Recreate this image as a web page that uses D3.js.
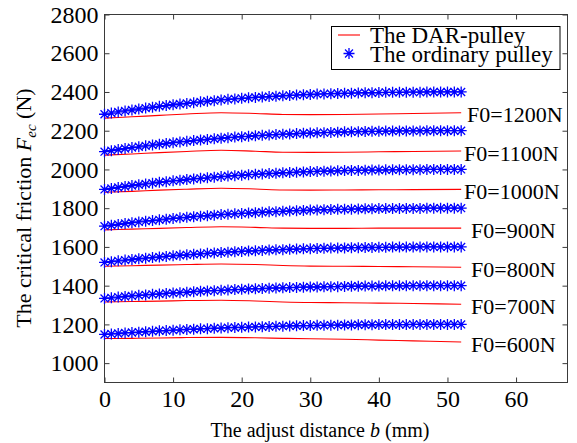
<!DOCTYPE html>
<html>
<head>
<meta charset="utf-8">
<script src="https://cdn.jsdelivr.net/npm/d3@7"></script>
<style>
  body { margin: 0; background: #fff; }
  svg { display: block; font-family: "Liberation Serif", "Times New Roman", serif; }
</style>
</head>
<body>
<div id="chart"></div>
<script>
// adjust distance b (mm) of the ordinary pulley points
var bOrd = [0,1,2,3,4,5,6,7,8,9,10,11,12,13,14,15,16,17,18,19,20,21,22,23,24,25,26,
            27,28,29,30,31,32,33,34,35,36,37,38,39,40,41,42,43,44,45,46,47,48,49,50,51,52];
// adjust distance b (mm) of the DAR-pulley curve points
var bDar = [0,4,8,12,17,22,26,30,35,40,45,52];

var f0Labels = ["F0=600N","F0=700N","F0=800N","F0=900N","F0=1000N","F0=1100N","F0=1200N"];

// the ordinary pulley, critical friction (N)
var ord600  = [1148,1151,1153,1156,1158,1160,1162,1164,1167,1168,1170,1172,1174,1175,1177,1178,1180,1181,1183,1184,1185,1186,1187,1188,1189,1190,1191,1192,1193,1194,1194,1195,1195,1196,1196,1197,1197,1198,1198,1198,1199,1199,1199,1199,1199,1200,1200,1200,1200,1200,1200,1200,1200];
var ord700  = [1334,1337,1341,1344,1347,1350,1352,1355,1357,1360,1362,1364,1366,1369,1371,1373,1374,1376,1378,1380,1381,1383,1384,1385,1387,1388,1389,1390,1391,1392,1393,1393,1394,1395,1395,1396,1397,1397,1398,1398,1398,1399,1399,1399,1399,1400,1400,1400,1400,1400,1400,1400,1400];
var ord800  = [1520,1524,1528,1532,1535,1539,1542,1545,1548,1551,1554,1557,1559,1562,1564,1567,1569,1571,1573,1575,1577,1579,1580,1582,1584,1585,1586,1588,1589,1590,1591,1592,1593,1594,1594,1595,1596,1596,1597,1597,1598,1598,1599,1599,1599,1599,1600,1600,1600,1600,1600,1600,1600];
var ord900  = [1707,1712,1716,1721,1725,1729,1733,1736,1740,1743,1747,1750,1753,1756,1759,1761,1764,1767,1769,1771,1773,1775,1777,1779,1781,1782,1784,1786,1787,1788,1790,1791,1792,1793,1794,1794,1795,1796,1797,1797,1798,1798,1798,1799,1799,1799,1799,1800,1800,1800,1800,1800,1800];
var ord1000 = [1897,1902,1907,1912,1917,1921,1925,1929,1934,1937,1941,1944,1948,1951,1954,1957,1960,1963,1966,1968,1970,1973,1975,1977,1979,1980,1983,1984,1986,1987,1989,1990,1991,1992,1993,1994,1995,1995,1996,1997,1997,1998,1998,1999,1999,1999,1999,2000,2000,2000,2000,2000,2000];
var ord1100 = [2092,2097,2103,2108,2113,2117,2122,2126,2130,2134,2138,2142,2145,2149,2152,2155,2158,2161,2164,2167,2169,2171,2174,2176,2178,2180,2182,2183,2185,2187,2188,2189,2190,2191,2192,2194,2194,2195,2196,2197,2197,2198,2198,2199,2199,2199,2199,2200,2200,2200,2200,2200,2200];
var ord1200 = [2285,2291,2297,2302,2307,2312,2317,2321,2326,2330,2334,2338,2341,2345,2349,2352,2355,2359,2362,2364,2367,2370,2372,2374,2376,2378,2380,2382,2384,2386,2387,2389,2390,2391,2392,2393,2394,2395,2396,2396,2397,2398,2398,2398,2399,2399,2399,2400,2400,2400,2400,2400,2400];

// the DAR-pulley, critical friction (N)
var dar600  = [1127,1128,1130,1132,1133,1131,1128,1126,1123,1119,1115,1109];
var dar700  = [1316,1318,1320,1323,1325,1321,1316,1313,1312,1310,1308,1304];
var dar800  = [1500,1503,1506,1509,1512,1509,1504,1501,1500,1499,1498,1495];
var dar900  = [1688,1692,1696,1700,1704,1701,1697,1696,1696,1697,1697,1697];
var dar1000 = [1882,1887,1893,1898,1903,1899,1894,1893,1894,1895,1896,1897];
var dar1100 = [2074,2080,2087,2093,2099,2094,2089,2088,2089,2091,2093,2095];
var dar1200 = [2265,2272,2279,2286,2293,2289,2284,2283,2284,2286,2289,2293];

var xTicks = [0,10,20,30,40,50,60];
var yTicks = [1000,1200,1400,1600,1800,2000,2200,2400,2600,2800];

var ordSeries = [ord600, ord700, ord800, ord900, ord1000, ord1100, ord1200];
var darSeries = [dar600, dar700, dar800, dar900, dar1000, dar1100, dar1200];

// horizontal start of each F0 label (px)
var labelX = [471, 471, 471, 471, 464, 464, 467];

var W = 577, H = 443;
var plot = { left: 104.5, right: 567.5, top: 14.5, bottom: 382.5 };

var x = d3.scaleLinear().domain([0, 67.5]).range([plot.left, plot.right]);
var y = d3.scaleLinear().domain([900, 2800]).range([plot.bottom, plot.top]);

var svg = d3.select("#chart").append("svg")
    .attr("width", W)
    .attr("height", H);

svg.append("rect").attr("width", W).attr("height", H).attr("fill", "#fff");

var tickFont = "24px";
var labelFont = "22px";

// axes, ticks point inward on all four sides
var gx = svg.append("g")
    .attr("transform", "translate(0," + plot.bottom + ")")
    .call(d3.axisBottom(x).tickValues(xTicks).tickSizeInner(-5).tickSizeOuter(0).tickPadding(7));
var gxTop = svg.append("g")
    .attr("transform", "translate(0," + plot.top + ")")
    .call(d3.axisTop(x).tickValues(xTicks).tickSizeInner(-5).tickSizeOuter(0).tickFormat(""));
var gy = svg.append("g")
    .attr("transform", "translate(" + plot.left + ",0)")
    .call(d3.axisLeft(y).tickValues(yTicks).tickSizeInner(-5).tickSizeOuter(0).tickPadding(6).tickFormat(d3.format("d")));
var gyRight = svg.append("g")
    .attr("transform", "translate(" + plot.right + ",0)")
    .call(d3.axisRight(y).tickValues(yTicks).tickSizeInner(-5).tickSizeOuter(0).tickFormat(""));

[gx, gxTop, gy, gyRight].forEach(function(g) {
    g.select(".domain").remove();
    g.selectAll(".tick line").attr("stroke", "#3a3a3a");
    g.selectAll("text")
        .attr("fill", "#000")
        .style("font-family", "'Liberation Serif', 'Times New Roman', serif")
        .style("font-size", tickFont);
});

svg.append("rect")
    .attr("x", plot.left).attr("y", plot.top)
    .attr("width", plot.right - plot.left).attr("height", plot.bottom - plot.top)
    .attr("fill", "none")
    .attr("stroke", "#3a3a3a")
    .attr("stroke-width", 1);

// asterisk marker like matlab '*'
var asterisk = {
    draw: function(ctx, size) {
        var r = Math.sqrt(size) / 2;
        var d = r * 0.72;
        ctx.moveTo(-r, 0); ctx.lineTo(r, 0);
        ctx.moveTo(0, -r); ctx.lineTo(0, r);
        ctx.moveTo(-d, -d); ctx.lineTo(d, d);
        ctx.moveTo(-d, d); ctx.lineTo(d, -d);
    }
};
var star = d3.symbol().type(asterisk).size(121);

var line = d3.line()
    .x(function(d) { return x(d[0]); })
    .y(function(d) { return y(d[1]); })
    .curve(d3.curveMonotoneX);

// DAR-pulley lines
darSeries.forEach(function(vals) {
    svg.append("path")
        .datum(bDar.map(function(b, i) { return [b, vals[i]]; }))
        .attr("d", line)
        .attr("fill", "none")
        .attr("stroke", "#ff0000")
        .attr("stroke-width", 1.1);
});

// ordinary pulley markers
ordSeries.forEach(function(vals) {
    svg.append("g").selectAll("path")
        .data(bOrd.map(function(b, i) { return [b, vals[i]]; }))
        .enter()
        .append("path")
        .attr("d", star)
        .attr("transform", function(d) { return "translate(" + x(d[0]) + "," + y(d[1]) + ")"; })
        .attr("fill", "none")
        .attr("stroke", "#0000ff")
        .attr("stroke-width", 1.3);
});

// F0 labels at the end of the DAR lines
svg.append("g").selectAll("text")
    .data(f0Labels)
    .enter()
    .append("text")
    .attr("x", function(d, i) { return labelX[i]; })
    .attr("y", function(d, i) { return y(darSeries[i][darSeries[i].length - 1]) + 2; })
    .attr("dy", "0.35em")
    .style("font-size", labelFont)
    .text(function(d) { return d; });

// legend
var lg = svg.append("g");
lg.append("rect")
    .attr("x", 331.5).attr("y", 26.5)
    .attr("width", 228.5).attr("height", 43)
    .attr("fill", "#fff")
    .attr("stroke", "#000")
    .attr("stroke-width", 1);
lg.append("line")
    .attr("x1", 338).attr("x2", 360)
    .attr("y1", 35).attr("y2", 35)
    .attr("stroke", "#ff0000")
    .attr("stroke-width", 1.1);
lg.append("path")
    .attr("d", star)
    .attr("transform", "translate(349,53.5)")
    .attr("fill", "none")
    .attr("stroke", "#0000ff")
    .attr("stroke-width", 1.3);
lg.append("text")
    .attr("x", 370).attr("y", 42.5)
    .style("font-size", "23px")
    .text("The DAR-pulley");
lg.append("text")
    .attr("x", 370).attr("y", 61.5)
    .style("font-size", "23px")
    .text("The ordinary pulley");

// axis titles
svg.append("text")
    .attr("x", 320)
    .attr("y", 437)
    .attr("text-anchor", "middle")
    .style("font-size", "20px")
    .html("The adjust distance <tspan font-style='italic'>b</tspan> (mm)");

svg.append("text")
    .attr("transform", "translate(31,208) rotate(-90)")
    .attr("text-anchor", "middle")
    .style("font-size", labelFont)
    .html("The critical friction <tspan font-style='italic'>F</tspan><tspan font-style='italic' font-size='15px' dy='5'>ec</tspan><tspan dy='-5'> (N)</tspan>");
</script>
</body>
</html>
